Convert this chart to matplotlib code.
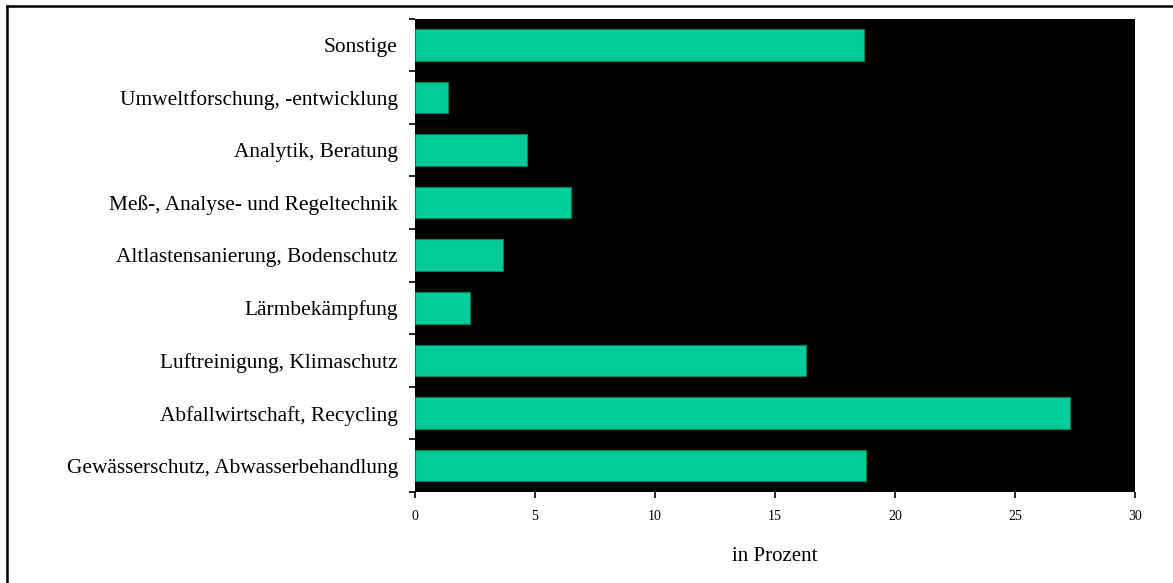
import matplotlib
matplotlib.use("Agg")
import matplotlib.pyplot as plt
from matplotlib.lines import Line2D

categories = [
    "Gewässerschutz, Abwasserbehandlung",
    "Abfallwirtschaft, Recycling",
    "Luftreinigung, Klimaschutz",
    "Lärmbekämpfung",
    "Altlastensanierung, Bodenschutz",
    "Meß-, Analyse- und Regeltechnik",
    "Analytik, Beratung",
    "Umweltforschung, -entwicklung",
    "Sonstige",
]
values = [18.8, 27.3, 16.3, 2.3, 3.7, 6.5, 4.7, 1.4, 18.7]
xticks = [0, 5, 10, 15, 20, 25, 30]

plt.rcParams['font.family'] = ['Liberation Serif', 'DejaVu Serif']

fig = plt.figure(figsize=(11.73, 5.83), dpi=100)
fig.patch.set_facecolor('white')
ax = fig.add_axes([414.5/1173, 1-492/583, (1135-414.5)/1173, (492-18.5)/583])
ax.set_facecolor('black')

ypos = list(range(len(categories)))
ax.barh(ypos, values, height=0.6, color='#00CC99', edgecolor='#00805F', linewidth=0.8)
ax.set_xlim(0, 30)
ax.set_ylim(-0.5, len(categories) - 0.5)

ax.set_yticks(ypos)
ax.set_yticklabels(categories, fontsize=15.4)
ax.tick_params(axis='y', which='major', length=0, pad=12)
ax.set_yticks([i - 0.5 for i in range(len(categories) + 1)], minor=True)
ax.tick_params(axis='y', which='minor', length=4, width=1.2, direction='out', color='black')

ax.set_xticks(xticks)
ax.set_xticklabels([str(t) for t in xticks], fontsize=10)
ax.tick_params(axis='x', length=4, width=1.2, direction='out', pad=9)
ax.set_xlabel("in Prozent", fontsize=15, labelpad=17)

for s in ax.spines.values():
    s.set_visible(False)

# outer frame (top and left edges visible)
fig.add_artist(Line2D([7/1173, 1.0], [1-6.2/583, 1-6.2/583], transform=fig.transFigure,
                      color='black', linewidth=1.8))
fig.add_artist(Line2D([7/1173, 7/1173], [0.0, 1-6.2/583], transform=fig.transFigure,
                      color='black', linewidth=1.8))

fig.savefig("out.png", dpi=100, facecolor='white')
